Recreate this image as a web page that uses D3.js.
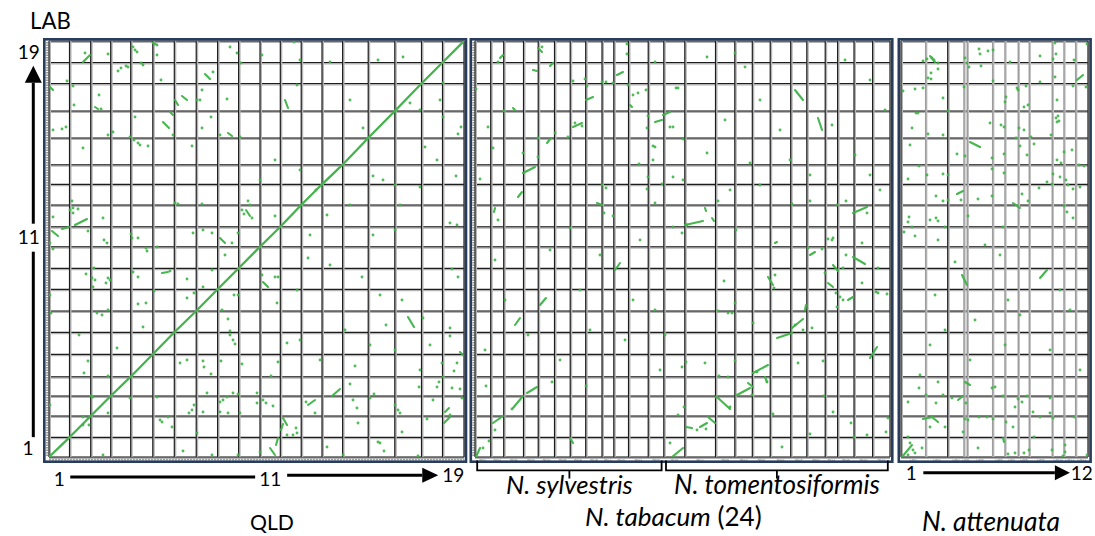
<!DOCTYPE html>
<html><head><meta charset="utf-8">
<script src="https://cdn.jsdelivr.net/npm/d3@7"></script>
<style>body{margin:0;background:#fff}svg{display:block}</style>
</head><body>
<svg id="c" width="1095" height="536"></svg>
<script>
// ---------------- DATA (relative chromosome lengths, positions in same units) -------------
const labChrLen = [19.7,21.3,20,19.3,22.4,22,21.3,21.7,21,21.6,20,21.7,20.7,19.6,26.7,27,27.5,21,21.5];
const qldChrLen = [20.5,21.2,20,20,22.1,21.5,21.9,21.4,21,21.4,20.3,20.9,20.8,20.6,25.6,26.6,26.7,21,21.5];
const tabChrLen = [15.7,13,19.8,14.7,16.3,15.7,15.5,16.3,11.8,14.7,19.7,15.6,
                   21,30.7,19.3,17.5,17.9,20.5,16.1,18.4,12.4,16.4,18.6,17.4];
const tabChrNames = ["Nt07","Nt03","Nt06","Nt05","Nt10","Nt08","Nt14","Nt18","Nt11","Nt20","Nt21","Nt09",
                     "Nt16","Nt17","Nt04","Nt13","Nt02","Nt22","Nt19","Nt01","Nt12","Nt24","Nt15","Nt23"];
const tabGroups = [{name:"N. sylvestris", from:0, to:11},{name:"N. tomentosiformis", from:12, to:23}];
const attChrLen = [24.7,22,16.3,3.3,25.4,12.3,13.3,11,23,11.7,11.7,12.3];
const attChrNames = ["Chr1","Chr2","Chr3","Chr4","Chr5","Chr6","Chr7","Chr8","Chr9","Chr10","Chr11","Chr12"];
const labTicks = [1,11,19];
const qldTicks = [1,11,19];
const attTicks = [1,12];

// panel 1: QLD (x) vs LAB (y)
const p1Dots = [[36,404],[84,410],[86,407],[88,405],[104,414],[106,413],[108,412],[108,402],[59,403],[92,394],[94,392],[69,386],[72,389],[77,391],[79,390],[164,385],[112,377],[18,376],[24,371],[50,362],[25,352],[52,348],[148,357],[151,357],[153,367],[178,358],[86,340],[162,340],[153,329],[13,328],[17,330],[4,327],[64,325],[59,322],[81,320],[85,317],[89,314],[91,312],[124,322],[171,322],[191,320],[99,311],[143,311],[34,309],[181,410],[188,404],[192,394],
[23,256],[24,249],[29,248],[21,247],[24,244],[4,240],[54,239],[39,226],[1,214],[4,208],[55,217],[58,214],[82,223],[83,219],[89,219],[97,209],[98,206],[108,210],[154,227],[163,224],[144,224],[183,214],[189,224],[193,247],[195,243],[203,239],[199,256],[201,252],[226,241],[126,254],[129,253],[153,253],[176,202],[121,186],[138,178],[163,187],[84,185],[89,180],[43,179],[46,177],[59,179],[57,174],[61,177],[44,170],[37,183],[45,189],[213,182],[226,180],[229,180],[154,170],[185,162],[189,162],[138,159],[145,164],[105,166],[97,154],[89,153],[48,144],[53,142],[59,147],[2,144],[1,162],[94,130],[173,147],[179,138],[181,122],[184,117],[186,113],[181,126],[238,114],[228,154],[30,122],[68,109],[39,96],[35,84],[59,81],[131,94],[138,97],[154,96],[155,90],[162,83],[172,96],[193,93],[222,81],[229,95],[184,64],[189,63],[208,64],[44,60],
[1,52],[42,61],[34,40],[39,39],[34,32],[40,32],[59,44],[54,2],[81,59],[108,60],[111,37],[119,40],[113,35],[123,30],[134,6],[145,52],[143,47],[140,44],[154,45],[148,24],[158,64],[171,55],[174,57],[171,45],[179,44],[178,60],[163,2],[191,44],[189,2],[208,54],[214,57],[217,54],[224,51],[211,5],[238,22],[244,22],[248,24],[247,29],[257,55],[266,44],[301,73],[304,57],[308,49],[309,34],[321,59],[325,63],[329,15],[331,14],[278,10],[294,2],[335,6],[346,52],[349,47],[351,44],[353,25],[370,70],[378,38],[384,57],[388,70],[390,75],[413,59],[369,1],
[394,374],[394,340],[412,330],[409,323],[407,281],[401,234],[408,232],[403,188],[409,180],[401,129],[401,121],[408,94],[405,86],[393,94],[394,80],[403,69],[411,68],[401,42],
[213,402],[245,415],[251,397],[248,372],[281,395],[301,357],[314,329],[329,397],[354,400],[361,354],[371,347],[376,310],[388,297],[391,357],[324,281],[334,277],[346,272],[371,270],[267,267],[251,287],[226,297],[211,277],[278,242],[301,252],[351,252],[346,227],[324,222],[261,222],[281,192],[259,199],[248,167],[313,180],[331,162],[353,157],[374,139],[337,132],[321,112],[296,127],[251,117],[271,97],[306,91],[346,107],[371,87],[381,112]];
const p1Segs = [[34,395,41,402],[156,383,161,378],[1,370,4,367],[46,350,49,348],[126,357,129,352],[133,361,138,357],[114,335,120,329],[179,324,183,321],[121,345,124,342],
[26,232,38,238],[13,228,20,230],[3,226,9,221],[171,219,176,214],[113,184,119,185],[214,175,219,170],[197,247,201,241],
[234,39,238,32],[232,27,234,33],[229,19,227,12],[221,9,226,2],[259,52,266,57],[283,61,291,68],[395,34,401,40],
[411,105,414,102],[396,45,400,49],[236,357,239,349],[359,140,365,130]];

// panel 2: N. tabacum (x) vs LAB (y)
const p2Dots = [[23,395],[67,410],[152,413],[152,403],[180,395],[98,376],[110,378],[112,371],[127,375],[131,375],[138,374],[153,372],[158,362],[163,364],[171,367],[201,369],[203,369],[29,346],[1,368],[13,330],[100,334],[107,331],[93,320],[80,324],[63,319],[173,341],[172,329],[195,330],[198,330],[208,318],[18,309],[48,304],[63,300],[178,311],[180,310],[178,297],[5,278],[127,272],[131,269],[173,280],[164,293],[198,280],[208,277],[187,273],[172,268],[129,244],[138,241],[23,237],[180,254],[95,229],[198,230],[212,232],
[207,224],[261,227],[243,256],[317,253],[335,256],[362,252],[371,256],[333,209],[347,208],[353,218],[357,217],[358,219],[371,202],[392,244],[387,214],[368,189],[403,189],[350,184],[387,174],[361,164],[365,160],[368,157],[362,150],[401,165],[403,164],[412,163],[300,182],[299,169],[249,176],[260,154],[253,144],[257,144],[243,146],[278,134],[320,132],[328,127],[337,129],[348,96],[323,94],[230,94],[211,95],[207,90],[260,96],[282,85],[244,81],[253,80],[277,62],[241,60],[349,61],
[8,9],[14,16],[11,71],[20,27],[37,48],[77,75],[111,71],[203,42],[209,50],[222,27],[231,28],[255,50],[292,75],[298,43],[307,10],[335,23],[358,45],[376,34],[379,20],[392,22],[411,25],[413,39],[195,14],
[232,400],[260,404],[270,390],[285,357],[357,332],[380,302],[395,282],[405,267],[275,294],[315,297],[232,304],[250,337],[305,327],[370,397],[395,377],[410,347],[335,282],[285,272],[255,267],
[53,122],[125,202],[158,157],[180,147],[190,122],[150,117],[85,97],[185,87],[20,197],[30,157],[105,167],[115,127],[10,107],[75,207],[165,217]];
const p2Segs = [[25,399,28,402],[63,409,67,405],[58,387,62,386],[75,391,78,394],[142,382,148,385],[111,357,118,360],[155,352,157,350],[38,349,40,347],[98,330,107,334],[72,314,76,319],[180,335,187,337],[188,342,195,345],[48,284,60,290],[43,260,47,265],[122,254,127,252],[20,249,19,245],
[210,232,228,236],[230,249,231,246],[237,239,239,236],[300,214,302,215],[335,202,340,205],[378,244,392,250],[378,200,390,193],[358,192,363,186],[353,174,358,170],[373,157,378,160],[293,180,298,172],[331,152,330,147],[317,129,328,138],[302,119,317,124],[395,99,402,110],[278,84,293,92],[290,80,292,75],
[1,0,5,9],[18,34,28,41],[38,49,48,61],[52,64,62,70],[95,19,98,14],[197,0,208,9],[211,30,217,29],[225,30,232,34],[233,40,240,34],[242,60,255,48],[262,62,275,69],[273,74,278,70],
[320,367,328,357],[343,339,347,327],[40,132,45,139],[65,152,71,159],[140,187,145,194]];

// panel 3: N. attenuata (x) vs LAB (y)
const p3Dots = [[22,396],[26,398],[31,399],[33,397],[37,394],[78,408],[79,403],[87,406],[92,407],[66,394],[68,390],[64,399],[80,391],[109,395],[139,401],[154,414],[155,403],[152,398],[173,397],[186,413],[37,388],[30,384],[27,379],[30,378],[92,376],[139,375],[154,380],[172,371],[185,370],[2,366],[14,368],[22,369],[42,359],[63,370],[105,360],[104,355],[116,369],[117,367],[125,371],[123,350],[127,352],[156,357],[47,346],[15,344],[17,344],[11,329],[27,323],[42,322],[89,334],[100,332],[103,330],[118,329],[123,327],[150,322],[155,339],[157,341],[156,335],[158,336],[115,319],[130,320],[9,312],[56,303],[64,301],[91,299],[103,303],[119,311],[126,302],[133,313],[156,297],[163,305],[171,307],[160,294],[18,291],[178,292],[183,291],[7,278],[26,282],[42,283],[47,282],[91,288],[103,284],[152,283],[159,280],[165,277],[146,275],[138,269],[167,272],[172,268],[151,273],[179,270],[35,261],[42,256],[47,257],[60,257],[77,258],[91,261],[121,263],[127,256],[163,251],[166,245],[172,239],[67,241],[8,240],[7,235],[29,237],[35,239],[37,236],[44,230],[11,230],[102,230],
[9,14],[12,7],[14,4],[7,2],[21,9],[7,20],[7,55],[18,69],[25,62],[37,75],[42,62],[35,54],[51,59],[65,54],[29,30],[44,30],[62,25],[64,38],[67,37],[78,40],[86,40],[92,38],[91,69],[94,70],[102,61],[114,50],[117,58],[121,55],[126,61],[132,45],[105,35],[112,30],[139,40],[149,44],[152,39],[149,59],[173,40],[133,20],[77,9],[107,3],[114,4],[123,4],[128,7],[151,7],[164,12],[164,5],[162,1],[186,2],
[3,225],[14,221],[37,217],[54,195],[34,162],[99,202],[84,212],[159,167],[107,157],[119,142],[74,137],[44,127],[29,112],[169,147],[104,112],[149,107],[69,97],[179,87],[19,82]];
const p3Segs = [[176,377,182,382],[69,315,79,310],[56,263,62,266],[112,254,119,249],[29,401,34,395],
[1,0,11,12],[57,57,62,61],[64,75,69,72],[22,38,32,40],[31,40,37,35],[102,19,103,15],
[61,182,66,172],[139,179,146,187]];

const titleLAB = "LAB", titleQLD = "QLD";
const titleTab = [["N. tabacum", true], [" (24)", false]];
const titleAtt = "N. attenuata";

// ---------------- DRAWING -------------
const svg = d3.select("#c");
const FONT = "Lato, 'Open Sans', 'DejaVu Sans', sans-serif";
const GREEN = "#3db446";
const FRAME = "#283c5c";
const cum = a => { const s=[0]; a.forEach(v=>s.push(s[s.length-1]+v)); return s; };

const Y0 = 457, Y1 = 41;
const labB = cum(labChrLen);
const yS = d3.scaleLinear().domain([0, labB[labB.length-1]]).range([Y0, Y1]);

const panels = [
  {id:"p1", len:qldChrLen, x0:49, x1:464, frame:[44.3,39.3,466,461.7], dots:p1Dots, segs:p1Segs, leftStrip:47.2, bottomDense:true},
  {id:"p2", len:tabChrLen, x0:475, x1:890, frame:[470.8,39.3,892.3,461.7], dots:p2Dots, segs:p2Segs, leftStrip:473.6, names:tabChrNames},
  {id:"p3", len:attChrLen, x0:901, x1:1088, frame:[898.8,39.3,1090.6,461.7], dots:p3Dots, segs:p3Segs, leftStrip:null, names:attChrNames, greyV:true}
];

panels.forEach(p=>{
  const b = cum(p.len);
  p.bounds = b;
  p.xS = d3.scaleLinear().domain([0, b[b.length-1]]).range([p.x0, p.x1]);
  const g = svg.append("g").attr("id", p.id);
  g.append("rect").attr("x",p.x0).attr("y",Y1).attr("width",p.x1-p.x0).attr("height",Y0-Y1).attr("fill","#fff");
  if (p.leftStrip!==null){
    g.append("line").attr("x1",p.leftStrip).attr("x2",p.leftStrip).attr("y1",Y1+1).attr("y2",Y0)
      .attr("stroke","#9c9c9c").attr("stroke-width",2.6).attr("stroke-dasharray","1.6,0.9");
  }
  if (p.bottomDense){
    g.append("line").attr("x1",p.x0).attr("x2",p.x1).attr("y1",459.3).attr("y2",459.3)
      .attr("stroke","#a4a4a4").attr("stroke-width",2.2).attr("stroke-dasharray","2.2,0.8");
  }
  if (p.names){
    g.selectAll("text.cn").data(p.names).join("text").attr("class","cn")
      .attr("x",(d,i)=>p.xS((b[i]+b[i+1])/2)).attr("y",460.6)
      .attr("text-anchor","middle").attr("font-size",3.4).attr("font-family",FONT).attr("fill","#777").text(d=>d);
  }
  const hg = g.append("g");
  hg.selectAll("line.hh").data(labB).join("line").attr("class","hh")
    .attr("x1",p.x0).attr("x2",p.x1).attr("y1",d=>yS(d)+0.9).attr("y2",d=>yS(d)+0.9)
    .attr("stroke","#b4b4b4").attr("stroke-width",2.2);
  hg.selectAll("line.h").data(labB).join("line").attr("class","h")
    .attr("x1",p.x0).attr("x2",p.x1).attr("y1",d=>yS(d)).attr("y2",d=>yS(d))
    .attr("stroke","#1c1c1c").attr("stroke-width",1.15);
  const isGrey = (i)=> p.greyV && i!==2 && i!==0 && i!==b.length-1;
  const vg = g.append("g");
  vg.selectAll("line.vv").data(b).join("line").attr("class","vv")
    .attr("x1",d=>p.xS(d)+0.9).attr("x2",d=>p.xS(d)+0.9).attr("y1",Y1).attr("y2",Y0)
    .attr("stroke",(d,i)=>isGrey(i)?"#c4c4c4":"#b4b4b4").attr("stroke-width",(d,i)=>isGrey(i)?1.6:2.2);
  vg.selectAll("line.v").data(b).join("line").attr("class","v")
    .attr("x1",d=>p.xS(d)).attr("x2",d=>p.xS(d)).attr("y1",Y1).attr("y2",Y0)
    .attr("stroke",(d,i)=> isGrey(i) ? "#9d9d9d" : "#1c1c1c")
    .attr("stroke-width",(d,i)=> isGrey(i) ? 1.5 : 1.15);
  const clipId = "clip-"+p.id;
  svg.append("clipPath").attr("id",clipId).append("rect").attr("x",p.x0).attr("y",Y1).attr("width",p.x1-p.x0).attr("height",Y0-Y1);
  const mg = g.append("g").attr("clip-path",`url(#${clipId})`);
  mg.selectAll("line.s").data(p.segs).join("line").attr("class","s")
    .attr("x1",d=>p.xS(d[0])).attr("y1",d=>yS(d[1])).attr("x2",d=>p.xS(d[2])).attr("y2",d=>yS(d[3]))
    .attr("stroke",GREEN).attr("stroke-width",2.1).attr("stroke-linecap","round").attr("opacity",0.95);
  mg.selectAll("circle").data(p.dots).join("circle")
    .attr("cx",d=>p.xS(d[0])).attr("cy",d=>yS(d[1])).attr("r",1.45).attr("fill",GREEN).attr("opacity",0.9);
  p.mg = mg;
  const f = p.frame;
  g.append("rect").attr("x",f[0]).attr("y",f[1]).attr("width",f[2]-f[0]).attr("height",f[3]-f[1])
    .attr("fill","none").attr("stroke",FRAME).attr("stroke-width",2.6);
});

// self-synteny diagonal in panel 1
const P1 = panels[0];
const qB = P1.bounds;
const diag = qldChrLen.map((v,i)=>[qB[i],labB[i],qB[i+1],labB[i+1]]);
P1.mg.selectAll("line.d").data(diag).join("line").attr("class","d")
  .attr("x1",d=>P1.xS(d[0])).attr("y1",d=>yS(d[1])).attr("x2",d=>P1.xS(d[2])).attr("y2",d=>yS(d[3]))
  .attr("stroke","#45b34d").attr("stroke-width",2.3).attr("stroke-linecap","round");

// ---------------- TEXT & ARROWS -------------
function fit(t, w){ t.attr("font-size",20); const l=t.node().getComputedTextLength(); t.attr("font-size",20*w/l); }
function label(x,y,parts,w){
  const t = svg.append("text").attr("x",x).attr("y",y).attr("text-anchor","middle").attr("font-family",FONT).attr("fill","#000");
  parts.forEach(p=>t.append("tspan").text(p[0]).attr("font-style",p[1]?"italic":"normal"));
  fit(t,w); return t;
}
label(50.4,29,[[titleLAB,false]],40.7);
label(272,530,[[titleQLD,false]],44);
label(673.3,525.5,titleTab,176.7);
label(991,531,[[titleAtt,true]],138);

const tickFont = 19;
const chrCenter = (bounds,i)=> (bounds[i-1]+bounds[i])/2;
labTicks.forEach(n=>{
  svg.append("text").attr("x",n===1?33.5:39.8).attr("y",yS(chrCenter(labB,n))+7.4).attr("text-anchor","end")
    .attr("font-family",FONT).attr("font-size",tickFont).text(n);
});
qldTicks.forEach(n=>{
  svg.append("text").attr("x",P1.xS(chrCenter(qB,n))).attr("y",n===19?481.8:486.3).attr("text-anchor","middle")
    .attr("font-family",FONT).attr("font-size",tickFont).text(n);
});
const P3 = panels[2];
attTicks.forEach(n=>{
  svg.append("text").attr("x",P3.xS(chrCenter(P3.bounds,n))-(n===1?2:0)).attr("y",480.3).attr("text-anchor","middle")
    .attr("font-family",FONT).attr("font-size",tickFont).text(n);
});

const ax = svg.append("g").attr("stroke","#000").attr("stroke-width",3).attr("fill","none");
const yAxX = 33.3;
const c1 = yS(chrCenter(labB,1)), c11 = yS(chrCenter(labB,11)), c19 = yS(chrCenter(labB,19));
ax.append("line").attr("x1",yAxX).attr("x2",yAxX).attr("y1",c1-10).attr("y2",c11+15);
ax.append("line").attr("x1",yAxX).attr("x2",yAxX).attr("y1",c11-13).attr("y2",c19+31);
svg.append("path").attr("d",`M${yAxX-8.5},${c19+31}L${yAxX},${c19+14}L${yAxX+8.5},${c19+31}Z`).attr("fill","#000");

const q1 = P1.xS(chrCenter(qB,1)), q11 = P1.xS(chrCenter(qB,11)), q19 = P1.xS(chrCenter(qB,19));
ax.append("line").attr("x1",q1+11).attr("x2",q11-15).attr("y1",477).attr("y2",477);
ax.append("line").attr("x1",q11+17).attr("x2",q19-31).attr("y1",475.3).attr("y2",475.3);
svg.append("path").attr("d",`M${q19-31},${467.8}L${q19-15},${475.3}L${q19-31},${482.8}Z`).attr("fill","#000");

const a1 = P3.xS(chrCenter(P3.bounds,1)), a12 = P3.xS(chrCenter(P3.bounds,12));
ax.append("line").attr("x1",a1+10).attr("x2",a12-27).attr("y1",472.7).attr("y2",472.7);
svg.append("path").attr("d",`M${a12-27},${465.2}L${a12-12},${472.7}L${a12-27},${480.2}Z`).attr("fill","#000");

const P2 = panels[1];
tabGroups.forEach(gr=>{
  const xa = P2.xS(P2.bounds[gr.from])+2.2, xb = P2.xS(P2.bounds[gr.to+1])-2.2, xm=(xa+xb)/2;
  svg.append("path").attr("d",`M${xa},460.5V470.3H${xb}V460.5M${xm},470.3V478.5`)
    .attr("fill","none").attr("stroke","#000").attr("stroke-width",1.8);
  label(xm, 494.3, [[gr.name,true]], gr.name.includes("tomento")?206:127);
});
</script>
</body></html>
